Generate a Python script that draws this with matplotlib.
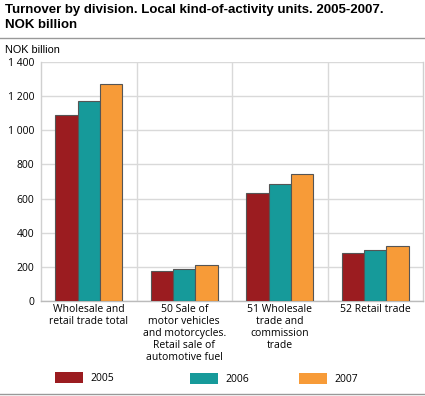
import matplotlib
matplotlib.use("Agg")
import matplotlib.pyplot as plt
from matplotlib.patches import Patch
from matplotlib.lines import Line2D
from matplotlib.ticker import FuncFormatter, MultipleLocator, FixedLocator
import numpy as np

categories = ["Wholesale and\nretail trade total",
              "50 Sale of\nmotor vehicles\nand motorcycles.\nRetail sale of\nautomotive fuel",
              "51 Wholesale\ntrade and\ncommission\ntrade",
              "52 Retail trade"]
years = ["2005", "2006", "2007"]
v2005 = [1091, 177, 635, 283]
v2006 = [1173, 190, 688, 300]
v2007 = [1272, 210, 742, 325]
colors = ["#9B1C20", "#169A9A", "#F79B38"]

tick_font = "Open Sans"
fs = 7.5
fig = plt.figure(figsize=(4.25, 3.96), dpi=100)
ax = fig.add_axes([41/425, 1-301/396, 382/425, 239/396])

x = np.arange(len(categories))
w = 0.234
series = [v2005, v2006, v2007]
bars = []
for i, (vals, c) in enumerate(zip(series, colors)):
    b = ax.bar(x + (i-1)*w, vals, w, color=c, edgecolor="#555555", linewidth=0.8, zorder=3, label=years[i])
    bars.append(b)

ax.set_xlim(-0.5, 3.5)
ax.set_ylim(0, 1400)
ax.yaxis.set_major_locator(MultipleLocator(200))
ax.yaxis.set_major_formatter(FuncFormatter(lambda v, p: f"{int(v):,}".replace(",", " ")))
ax.set_xticks(x)
ax.set_xticklabels(categories, fontsize=fs, family=tick_font, linespacing=1.12, va="top")
ax.xaxis.set_minor_locator(FixedLocator([0.5, 1.5, 2.5]))
ax.grid(axis="y", which="major", color="#d9d9d9", linewidth=1.0, zorder=0)
ax.grid(axis="x", which="minor", color="#d9d9d9", linewidth=1.0, zorder=0)
ax.tick_params(axis="both", which="both", length=0)
ax.tick_params(axis="x", pad=2)
ax.tick_params(axis="y", pad=5)
for lab in ax.get_yticklabels():
    lab.set_family(tick_font)
    lab.set_fontsize(fs)
ax.spines["top"].set_visible(False)
for s in ["left", "right", "bottom"]:
    ax.spines[s].set_color("#d0d0d0")
    ax.spines[s].set_linewidth(1.0)
ax.spines["bottom"].set_color("#bbbbbb")

# Title
fig.text(5/425, 1-4/396, "Turnover by division. Local kind-of-activity units. 2005-2007.\nNOK billion",
         fontsize=9.5, fontweight="bold", family="Liberation Sans", va="top", ha="left", linespacing=1.28)
fig.add_artist(Line2D([0, 1], [1-38/396, 1-38/396], color="#999999", linewidth=1.0))
fig.add_artist(Line2D([0, 1], [1-394/396, 1-394/396], color="#999999", linewidth=1.0))
fig.text(5/425, 1-45/396, "NOK billion", fontsize=7.8, family="Liberation Sans", va="top", ha="left")

# Legend
pos = [(55/425, 1-372/396), (190/425, 1-373/396), (299/425, 1-373/396)]
for b, lbl, p in zip(bars, years, pos):
    fig.legend([Patch(facecolor=b.patches[0].get_facecolor(), edgecolor="none")], [lbl],
               loc="upper left", bbox_to_anchor=p, frameon=False,
               prop={"family": tick_font, "size": fs},
               handlelength=2.7, handleheight=1.25, handletextpad=0.7,
               borderpad=0, borderaxespad=0)

fig.savefig("out.png", dpi=100)
